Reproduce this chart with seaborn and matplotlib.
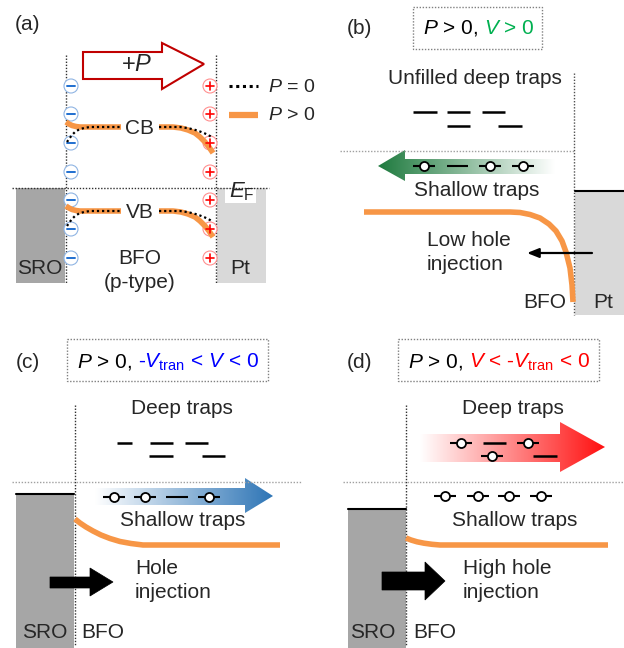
import numpy as np
import matplotlib
matplotlib.use("Agg")
import matplotlib.pyplot as plt
import seaborn as sns
from matplotlib.patches import Rectangle, Polygon, Circle
from matplotlib.colors import to_rgb

sns.set_style("white")
plt.rcParams['font.family'] = ['Liberation Sans', 'DejaVu Sans']
plt.rcParams['mathtext.fontset'] = 'custom'
plt.rcParams['mathtext.rm'] = 'Liberation Sans'
plt.rcParams['mathtext.it'] = 'Liberation Sans:italic'

# ---------------- data (schematic positions in pixel space) ----------------
charge_y = [86, 114, 143, 172, 200, 229, 258]
cb_orange_left_x = [66, 69, 72, 76, 80, 121]
cb_orange_left_y = [122, 124, 125.5, 126.5, 127, 127]
cb_orange_right_x = [159, 173, 181, 188, 195, 200, 205, 209, 213]
cb_orange_right_y = [127, 127, 128, 130, 133, 137, 142, 147, 153]
cb_dot_left_x = [67, 69, 72, 75, 79, 84, 90, 121]
cb_dot_left_y = [142, 139, 135, 132, 129.5, 128, 127, 127]
cb_dot_right_x = [159, 180, 187, 194, 200, 205, 210, 213]
cb_dot_right_y = [127, 127, 128, 129.5, 131.5, 133.5, 136, 138]
vb_offset = 84

b_curve_x = [364, 510, 520, 530, 540, 549, 556, 562, 566, 570, 572, 573]
b_curve_y = [212, 212, 212.5, 214.5, 218, 224, 231, 241, 252, 268, 285, 302]
c_curve_x = [75, 80, 86, 93, 101, 110, 120, 131, 143, 280]
c_curve_y = [519, 523, 527, 531, 535, 538.5, 541.5, 543.5, 545, 545]
d_curve_x = [406, 411, 417, 424, 432, 440, 608]
d_curve_y = [538, 540, 541.8, 543.2, 544.3, 545, 545]

b_deep_lines = [(413, 437, 112), (447, 470, 112), (482, 505, 112), (447, 470, 126), (498, 522, 126)]
b_shallow_circ = [424, 490, 523]
b_shallow_line = [(447, 468)]
c_deep_lines = [(117, 132, 443), (150, 173, 443), (185, 208, 443), (149, 173, 456), (202, 225, 456)]
c_shallow_circ = [114, 145, 209]
c_shallow_line = [(166, 188)]
d_deep_circ = [(461, 443), (528, 443), (492, 456)]
d_deep_lines = [(483, 506, 443), (533, 557, 456)]
d_shallow_circ = [445, 478, 509, 541]

ORANGE = '#f79646'
SRO_C = '#a6a6a6'
PT_C = '#d9d9d9'
FS = 15

fig = plt.figure(figsize=(6.24, 6.48), dpi=100)
ax = fig.add_axes([0, 0, 1, 1])
renderer = fig.canvas.get_renderer()


def T(x, y, s, fs=FS, ha='center', va='center', **kw):
    return ax.text(x, y, s, fontsize=fs, ha=ha, va=va, **kw)


def dotted(xs, ys, color='#404040', lw=1.0):
    ax.plot(xs, ys, color=color, lw=lw, ls=(0, (1, 1.2)), zorder=3)


def curve(xs, ys, zorder=4):
    sns.lineplot(x=xs, y=ys, sort=False, estimator=None, color=ORANGE, lw=4, ax=ax,
                 solid_capstyle='butt', solid_joinstyle='round', zorder=zorder)


def dcurve(xs, ys):
    ax.plot(xs, ys, color='black', lw=1.6, ls=(0, (1, 1.3)), zorder=5)


def trap(x, y, circ=True):
    ax.plot([x - 11, x + 11], [y, y], color='black', lw=1.5, zorder=6, solid_capstyle='butt')
    if circ:
        ax.plot([x], [y], 'o', ms=6.5, mfc='white', mec='black', mew=1.3, zorder=7)


def tline(x0, x1, y, lw=1.6):
    ax.plot([x0, x1], [y, y], color='black', lw=lw, zorder=6, solid_capstyle='butt')


def width_of(s, fs):
    t = ax.text(0, 0, s, fontsize=fs)
    w = t.get_window_extent(renderer).width
    t.remove()
    return w


def multicolor(xc, y, parts, fs=FS):
    full = ''.join(p for p, _ in parts)
    total = width_of(full + '|', fs) - width_of('|', fs)
    x0 = xc - total / 2
    prefix = ''
    for s, c in parts:
        off = width_of(prefix + '|', fs) - width_of('|', fs) if prefix else 0
        T(x0 + off, y, s, fs=fs, ha='left', color=c)
        prefix += s


def grad_arrow(poly, x_tail, x_tip, color, y0, y1):
    """Gradient from white at the tail to full colour at the tip."""
    rgb = np.array(to_rgb(color))
    n = 256
    t = np.linspace(0, 1, n)
    img = np.ones((1, n, 3))
    for i in range(3):
        img[0, :, i] = 1 - t * (1 - rgb[i])
    xa, xb = min(x_tail, x_tip), max(x_tail, x_tip)
    if x_tail > x_tip:
        img = img[:, ::-1, :]
    im = ax.imshow(img, extent=[xa, xb, y1, y0], aspect='auto', zorder=2, interpolation='bilinear')
    p = Polygon(poly, closed=True, fc='none', ec='none')
    ax.add_patch(p)
    im.set_clip_path(p)


def box(x0, y0, x1, y1):
    ax.add_patch(Rectangle((x0, y0), x1 - x0, y1 - y0, fill=False, ec='#808080', lw=1.0,
                           ls=(0, (1, 1.2)), zorder=3))


def fat_arrow(x0, xb, xt, by0, by1, hy0, hy1, ty):
    ax.add_patch(Polygon([(x0, by0), (xb, by0), (xb, hy0), (xt, ty), (xb, hy1), (xb, by1), (x0, by1)],
                         closed=True, fc='black', ec='black', lw=0.5, zorder=6))

# ---------------- panel (a) ----------------
T(28, 25, '(a)')
ax.add_patch(Rectangle((16, 188), 49, 95, fc=SRO_C, ec='none', zorder=1))
ax.add_patch(Rectangle((217, 188), 49, 95, fc=PT_C, ec='none', zorder=1))
dotted([66, 66], [55, 283], color='#303030')
dotted([216, 216], [55, 283], color='#303030')
ax.add_patch(Rectangle((225, 189), 31, 14, fc='white', ec='none', zorder=2))
dotted([12, 269], [188, 188], color='#303030')
T(229, 197, r'$E_{\rm F}$', fs=16, ha='left', va='baseline', zorder=5)
ax.add_patch(Polygon([(83, 52), (162, 52), (162, 43), (204, 64), (162, 89), (162, 79), (83, 79)],
                     closed=True, fc='white', ec='#c00000', lw=1.5, zorder=3))
T(137, 65, r'+$P$', fs=17, zorder=4)
for y in charge_y:
    ax.add_patch(Circle((71, y), 7, fc='white', ec='#8fb4e3', lw=0.8, zorder=4))
    ax.plot([67, 75], [y, y], color='#1f6fd0', lw=1.4, zorder=5)
    ax.add_patch(Circle((210, y), 7, fc='white', ec='#ff8f8f', lw=0.8, zorder=4))
    ax.plot([206, 214], [y, y], color='#ff0000', lw=1.2, zorder=5)
    ax.plot([210, 210], [y - 4, y + 4], color='#ff0000', lw=1.2, zorder=5)
for off in (0, vb_offset):
    curve(cb_orange_left_x, [v + off for v in cb_orange_left_y])
    curve(cb_orange_right_x, [v + off for v in cb_orange_right_y])
    dcurve(cb_dot_left_x, [v + off for v in cb_dot_left_y])
    dcurve(cb_dot_right_x, [v + off for v in cb_dot_right_y])
T(140, 128, 'CB')
T(140, 212, 'VB')
ax.plot([229, 258], [86, 86], color='black', lw=2.2, ls=(0, (1, 1.2)))
ax.plot([229, 258], [115, 115], color=ORANGE, lw=4.5, solid_capstyle='butt')
T(268, 87, r'$P$ = 0', fs=14, ha='left')
T(268, 116, r'$P$ > 0', fs=14, ha='left')
T(140, 258, 'BFO')
T(140, 283, '(p-type)')
T(40, 268, 'SRO')
T(240, 268, 'Pt')

# ---------------- panel (b) ----------------
T(359, 28, '(b)')
box(413, 7, 542, 49)
multicolor(478, 28, [(r'$P$ > 0, ', 'black'), (r'$V$ > 0', '#00b050')])
T(475, 78, 'Unfilled deep traps')
for x0, x1, y in b_deep_lines:
    tline(x0, x1, y, lw=1.8)
dotted([340, 575], [151, 151], color='#a0a0a0')
dotted([574, 574], [73, 315], color='#505050')
ax.add_patch(Rectangle((575, 191), 49, 124, fc=PT_C, ec='none', zorder=1))
ax.plot([575, 624], [191, 191], color='black', lw=1.5, zorder=3)
grad_arrow([(378, 166), (405, 150), (405, 159), (555, 159), (555, 174), (405, 174), (405, 181)],
           555, 378, '#1e7a3e', 150, 181)
for x in b_shallow_circ:
    trap(x, 166)
for x0, x1 in b_shallow_line:
    tline(x0, x1, 166, lw=1.5)
T(477, 190, 'Shallow traps')
curve(b_curve_x, b_curve_y)
T(427, 240, 'Low hole', ha='left')
T(427, 265, 'injection', ha='left')
ax.annotate('', xy=(527, 253), xytext=(592, 253),
            arrowprops=dict(arrowstyle='-|>,head_length=0.7,head_width=0.28', color='black', lw=1.6,
                            shrinkA=0, shrinkB=0), zorder=6)
T(566, 302, 'BFO', ha='right')
T(603, 302, 'Pt')

# ---------------- panel (c) ----------------
T(28, 363, '(c)')
box(67, 339, 268, 381)
multicolor(167, 362, [(r'$P$ > 0, ', 'black'), (r'-$V_{\rm tran}$ < $V$ < 0', '#0000ff')])
dotted([75, 75], [405, 645], color='#303030')
T(182, 409, 'Deep traps')
for x0, x1, y in c_deep_lines:
    tline(x0, x1, y, lw=1.8)
dotted([12, 302], [482, 482], color='#a0a0a0')
ax.add_patch(Rectangle((16, 494), 58, 154, fc=SRO_C, ec='none', zorder=1))
ax.plot([16, 74], [494, 494], color='black', lw=1.5, zorder=3)
grad_arrow([(95, 488), (245, 488), (245, 478), (273, 496), (245, 513), (245, 505), (95, 505)],
           95, 273, '#2e75b6', 478, 513)
for x in c_shallow_circ:
    trap(x, 497)
for x0, x1 in c_shallow_line:
    tline(x0, x1, 497, lw=1.5)
T(183, 521, 'Shallow traps')
curve(c_curve_x, c_curve_y)
fat_arrow(50, 90, 113, 577, 588, 568, 596, 582)
T(135, 569, 'Hole', ha='left')
T(135, 593, 'injection', ha='left')
T(45, 633, 'SRO')
T(103, 633, 'BFO')

# ---------------- panel (d) ----------------
T(359, 363, '(d)')
box(398, 339, 599, 381)
multicolor(498, 362, [(r'$P$ > 0, ', 'black'), (r'$V$ < -$V_{\rm tran}$ < 0', '#ff0000')])
dotted([406, 406], [405, 645], color='#303030')
T(513, 409, 'Deep traps')
grad_arrow([(420, 434), (560, 434), (560, 422), (605, 447), (560, 472), (560, 462), (420, 462)],
           420, 605, '#ff1010', 422, 472)
for x, y in d_deep_circ:
    trap(x, y)
for x0, x1, y in d_deep_lines:
    tline(x0, x1, y, lw=1.8)
dotted([343, 623], [482, 482], color='#a0a0a0')
for x in d_shallow_circ:
    trap(x, 496)
T(515, 520, 'Shallow traps')
ax.add_patch(Rectangle((348, 509), 58, 139, fc=SRO_C, ec='none', zorder=1))
ax.plot([348, 406], [509, 509], color='black', lw=1.5, zorder=3)
curve(d_curve_x, d_curve_y)
fat_arrow(382, 425, 445, 572, 590, 562, 600, 581)
T(463, 569, 'High hole', ha='left')
T(463, 593, 'injection', ha='left')
T(373, 633, 'SRO')
T(435, 633, 'BFO')

ax.set_xlim(0, 624)
ax.set_ylim(648, 0)
ax.axis('off')
fig.savefig('out.png', dpi=100)
